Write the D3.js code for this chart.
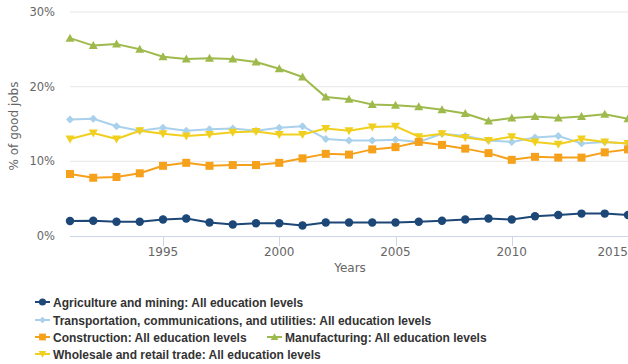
<!DOCTYPE html>
<html><head><meta charset="utf-8">
<script src="https://cdn.jsdelivr.net/npm/d3@7"></script>
<style>
html,body{margin:0;padding:0;background:#fff;}
svg{display:block;font-family:"DejaVu Sans",sans-serif;}
</style></head>
<body>
<svg id="c" width="628" height="364"></svg>
<script>
const years = d3.range(1991, 2016);
const agriculture = [2.0,2.05,1.9,1.9,2.2,2.35,1.8,1.55,1.7,1.7,1.4,1.8,1.8,1.8,1.8,1.9,2.05,2.2,2.35,2.2,2.65,2.8,3.0,3.0,2.8];
const transportation = [15.6,15.7,14.7,14.1,14.5,14.1,14.3,14.4,14.1,14.5,14.7,13.0,12.8,12.8,12.9,12.6,13.7,13.4,12.8,12.6,13.2,13.4,12.4,12.6,12.4];
const construction = [8.3,7.8,7.9,8.4,9.4,9.8,9.4,9.5,9.5,9.8,10.4,11.0,10.9,11.6,11.9,12.6,12.2,11.7,11.1,10.2,10.6,10.5,10.5,11.2,11.6];
const manufacturing = [26.5,25.5,25.7,25.0,24.0,23.7,23.8,23.7,23.3,22.4,21.3,18.6,18.3,17.6,17.5,17.3,16.9,16.4,15.4,15.8,16.0,15.8,16.0,16.3,15.7];
const wholesale = [13.0,13.8,13.0,14.1,13.7,13.4,13.6,13.9,14.0,13.6,13.6,14.4,14.1,14.6,14.7,13.3,13.7,13.2,12.8,13.3,12.6,12.3,13.0,12.6,12.4];
const yTicks = [0,10,20,30];
const xTicks = [1995,2000,2005,2010,2015];

const series = [
  {name:"Agriculture and mining: All education levels", values:agriculture, color:"#1c4777", marker:"circle"},
  {name:"Transportation, communications, and utilities: All education levels", values:transportation, color:"#a9d1eb", marker:"diamond"},
  {name:"Construction: All education levels", values:construction, color:"#f5a11c", marker:"square"},
  {name:"Manufacturing: All education levels", values:manufacturing, color:"#9fba4c", marker:"triangle"},
  {name:"Wholesale and retail trade: All education levels", values:wholesale, color:"#f0cf1e", marker:"triangle-down"}
];
const drawOrder = [1,4,2,3,0];

const W = 628, H = 364;
const svg = d3.select("#c");
const x = d3.scaleLinear().domain([1991,2015]).range([70,628]);
const y = d3.scaleLinear().domain([0,30]).range([236,12]);

svg.append("g").selectAll("line").data(yTicks.filter(d=>d>0)).join("line")
  .attr("x1",70).attr("x2",W).attr("y1",d=>y(d)).attr("y2",d=>y(d))
  .attr("stroke","#e6e6e6").attr("stroke-width",1);
svg.append("line").attr("x1",70).attr("x2",W).attr("y1",y(0)+0.5).attr("y2",y(0)+0.5)
  .attr("stroke","#ccd6eb").attr("stroke-width",1);
svg.append("g").selectAll("line").data(xTicks).join("line")
  .attr("x1",d=>Math.round(x(d))+0.5).attr("x2",d=>Math.round(x(d))+0.5)
  .attr("y1",y(0)).attr("y2",y(0)+10).attr("stroke","#ccd6eb");

svg.append("g").selectAll("text").data(yTicks).join("text")
  .attr("x",55).attr("y",d=>y(d)+4).attr("text-anchor","end")
  .attr("font-size",11.5).attr("fill","#666").text(d=>d+"%");
const xl = svg.append("g").selectAll("text").data(xTicks).join("text")
  .attr("x",d=>x(d)).attr("y",256).attr("text-anchor","middle")
  .attr("font-size",12).attr("fill","#666").text(d=>d);
xl.each(function(){
  const b = this.getBBox();
  if (b.x + b.width > W) d3.select(this).attr("text-anchor","end").attr("x", W);
});
svg.append("text").attr("x",350).attr("y",272).attr("text-anchor","middle")
  .attr("font-size",12).attr("fill","#666").text("Years");
svg.append("text").attr("transform","translate(18,126) rotate(-90)").attr("text-anchor","middle")
  .attr("font-size",12).attr("fill","#666").text("% of good jobs");

function symbolFor(m){
  if (m==="circle") return d3.symbol(d3.symbolCircle, 56)();
  if (m==="square") return d3.symbol(d3.symbolSquare, 64)();
  if (m==="diamond") return d3.symbol(d3.symbolDiamond2, 40)();
  if (m==="triangle") return "M0,-4.5L4.5,3.5L-4.5,3.5Z";
  if (m==="triangle-down") return "M0,4.5L4.5,-3.5L-4.5,-3.5Z";
}

const line = d3.line().x((d,i)=>x(years[i])).y(d=>y(d));
const plot = svg.append("g");
drawOrder.forEach(k=>{
  const s = series[k];
  const g = plot.append("g");
  g.append("path").attr("d",line(s.values)).attr("fill","none")
    .attr("stroke",s.color).attr("stroke-width",2).attr("stroke-linejoin","round");
  g.selectAll("path.m").data(s.values).join("path").attr("class","m")
    .attr("transform",(d,i)=>`translate(${x(years[i])},${y(d)})`)
    .attr("d",symbolFor(s.marker)).attr("fill",s.color);
});

const legendPos = [
  {k:0,x:35,y:302},{k:1,x:35,y:320},{k:2,x:35,y:337},{k:3,x:267,y:337},{k:4,x:35,y:354}
];
const lg = svg.append("g");
legendPos.forEach(p=>{
  const s = series[p.k];
  const g = lg.append("g").attr("transform",`translate(${p.x},${p.y})`);
  g.append("line").attr("x1",0).attr("x2",15).attr("y1",0).attr("y2",0)
    .attr("stroke",s.color).attr("stroke-width",2);
  g.append("path").attr("transform","translate(7.5,0) scale(0.85)").attr("d",symbolFor(s.marker)).attr("fill",s.color);
  g.append("text").attr("x",18).attr("y",4.5).attr("font-size",12).attr("font-weight","bold")
    .attr("font-family","'Liberation Sans',Arial,sans-serif")
    .attr("fill","#333").text(s.name);
});
</script>
</body></html>
